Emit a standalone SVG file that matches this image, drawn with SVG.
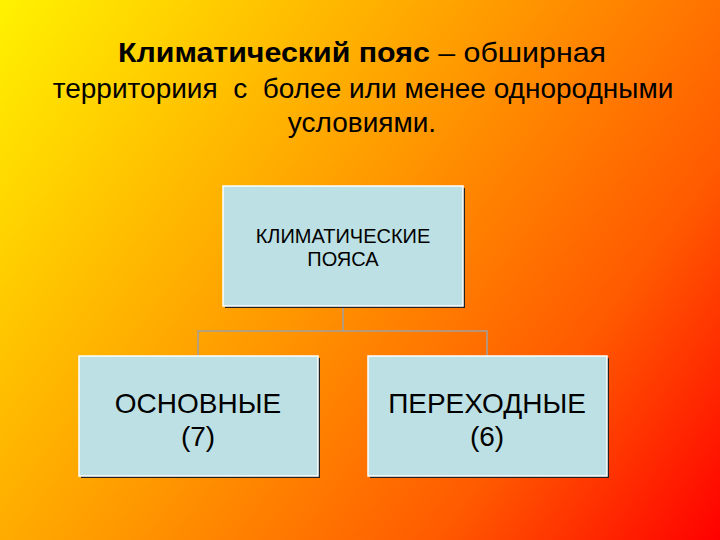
<svg xmlns="http://www.w3.org/2000/svg" width="720" height="540" viewBox="0 0 720 540">
<defs>
<linearGradient id="bg" x1="0" y1="0" x2="720" y2="540" gradientUnits="userSpaceOnUse">
<stop offset="0" stop-color="#FFF200"/>
<stop offset="0.45" stop-color="#FF9A00"/>
<stop offset="0.75" stop-color="#FF5A00"/>
<stop offset="1" stop-color="#FF0000"/>
</linearGradient>
<style>
.box{fill:#BDE0E4;stroke:#FFFFFF;stroke-width:1.5}
.shadow{fill:#222222}
.t{font-family:"Liberation Sans",Arial,sans-serif;fill:#000;text-anchor:middle;white-space:pre}
.conn{fill:none;stroke:#A0A0A0;stroke-width:1.5}
</style>
</defs>
<rect width="720" height="540" fill="url(#bg)"/>
<g id="title">
<text class="t" x="362" y="62" font-size="28" xml:space="preserve" textLength="488" lengthAdjust="spacingAndGlyphs"><tspan font-weight="bold">Климатический пояс</tspan> – обширная</text>
<text class="t" x="363" y="98" font-size="28" xml:space="preserve">территориия  с  более или менее однородными</text>
<text class="t" x="362" y="132" font-size="28">условиями.</text>
</g>
<g id="connectors">
<path class="conn" d="M343 306 V331 M198 356 V331 H487 V356"/>
</g>
<g id="node-top">
<rect class="shadow" x="225" y="188" width="240" height="120"/>
<rect class="box" x="223" y="186" width="240" height="120"/>
<text class="t" x="343" y="243" font-size="20">КЛИМАТИЧЕСКИЕ</text>
<text class="t" x="343" y="266" font-size="20">ПОЯСА</text>
</g>
<g id="node-left">
<rect class="shadow" x="81" y="358" width="239" height="120"/>
<rect class="box" x="79" y="356" width="239" height="120"/>
<text class="t" x="198" y="413" font-size="28">ОСНОВНЫЕ</text>
<text class="t" x="198" y="446" font-size="28">(7)</text>
</g>
<g id="node-right">
<rect class="shadow" x="370" y="358" width="239" height="120"/>
<rect class="box" x="368" y="356" width="239" height="120"/>
<text class="t" x="487" y="413" font-size="28">ПЕРЕХОДНЫЕ</text>
<text class="t" x="487" y="446" font-size="28">(6)</text>
</g>
</svg>
